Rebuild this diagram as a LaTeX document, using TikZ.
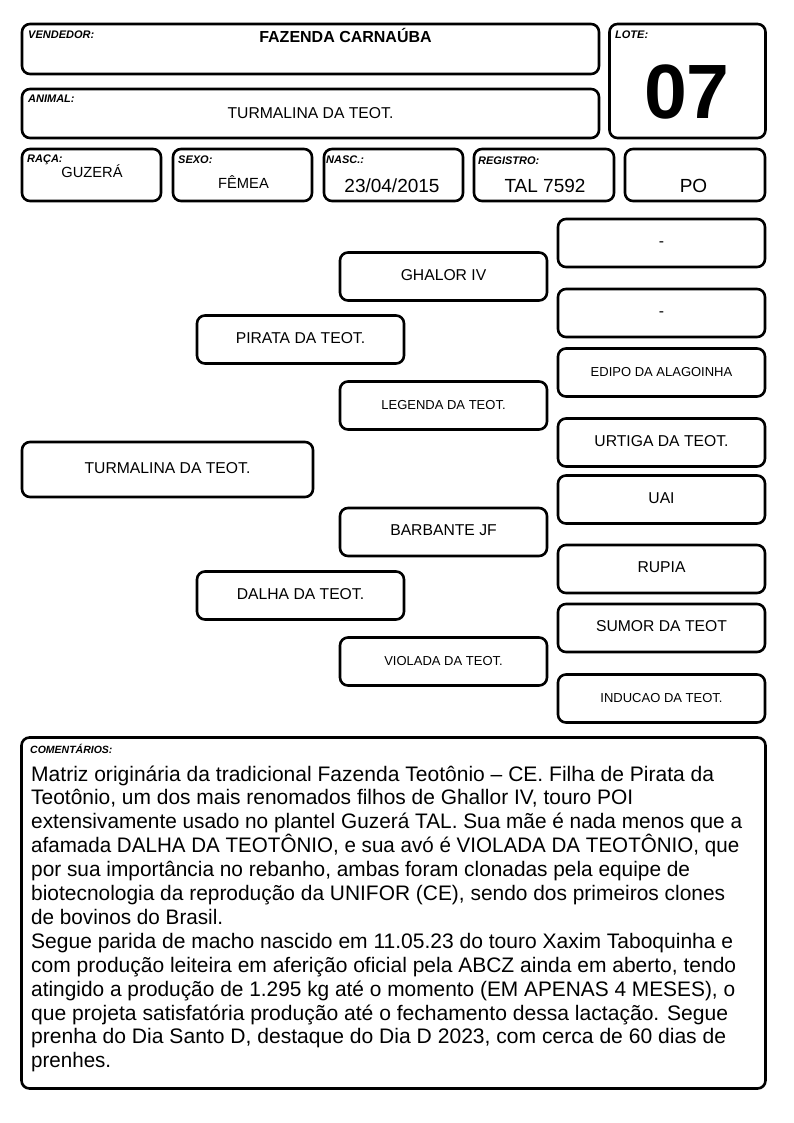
\documentclass[tikz,border=0pt]{standalone}
\usepackage{graphicx}
\usepackage{fontspec}
\setmainfont{Liberation Sans}
\begin{document}
\begin{tikzpicture}[x=1pt,y=-1pt,
  box/.style={draw=black, line width=2.6pt, rounded corners=8pt, outer sep=0pt, inner sep=0pt},
  lbl/.style={anchor=base west, inner sep=0pt, font=\fontsize{11}{13}\selectfont\bfseries\itshape},
  val/.style={anchor=base, inner sep=0pt},
  ped/.style={box, minimum width=207pt, minimum height=48pt, text depth=0pt, text height=0.716em, font=\fontsize{15.7}{18}\selectfont},
  peds/.style={ped, font=\fontsize{13}{15}\selectfont},
  cline/.style={anchor=base west, inner sep=0pt, font=\fontsize{21}{24}\selectfont}]
\useasboundingbox (0,0) rectangle (794,1123);
% header boxes
\node[box, minimum width=577pt, minimum height=50pt] (vend) at (310.5,49) {};
\node[box, minimum width=156pt, minimum height=114pt] (lote) at (687.5,81) {};
\node[box, minimum width=577pt, minimum height=49pt] (anim) at (310.5,113.5) {};
\node[box, minimum width=139pt, minimum height=52pt] (raca) at (91.5,175) {};
\node[box, minimum width=139pt, minimum height=52pt] (sexo) at (242.5,175) {};
\node[box, minimum width=139pt, minimum height=52pt] (nasc) at (393.5,175) {};
\node[box, minimum width=140pt, minimum height=52pt] (reg) at (544,175) {};
\node[box, minimum width=140pt, minimum height=52pt] (po) at (695,175) {};
% labels
\node[lbl] (lvend) at (28,39) {VENDEDOR:};
\node[lbl] (llote) at (615,39) {LOTE:};
\node[lbl] (lanim) at (28,103) {ANIMAL:};
\node[lbl] (lraca) at (27,163) {RAÇA:};
\node[lbl] (lsexo) at (178,164) {SEXO:};
\node[lbl] (lnasc) at (326,164) {NASC.:};
\node[lbl] (lreg) at (478,165) {REGISTRO:};
% values
\node[val, font=\fontsize{16}{18}\selectfont\bfseries] (tvend) at (345.5,43) {FAZENDA CARNAÚBA};
\node[val, font=\fontsize{77}{80}\selectfont\bfseries] (tlote) at (687,119) {07};
\node[val, font=\fontsize{15.7}{18}\selectfont] (tanim) at (310.5,119) {TURMALINA DA TEOT.};
\node[val, font=\fontsize{14.7}{17}\selectfont] (traca) at (92,178) {GUZERÁ};
\node[val, font=\fontsize{14.7}{17}\selectfont] (tsexo) at (243.5,189) {FÊMEA};
\node[val, font=\fontsize{19}{22}\selectfont] (tnasc) at (392,193) {23/04/2015};
\node[val, font=\fontsize{19}{22}\selectfont] (treg) at (545,193) {TAL 7592};
\node[val, font=\fontsize{19}{22}\selectfont] (tpo) at (693.5,193) {PO};
% pedigree
\node[ped, minimum width=291pt, minimum height=55pt] (p0) at (167.5,469.5) {TURMALINA DA TEOT.};
\node[ped] (p1) at (300.5,339.5) {PIRATA DA TEOT.};
\node[ped] (p2) at (300.5,595.5) {DALHA DA TEOT.};
\node[ped] (p11) at (443.5,276.5) {GHALOR IV};
\node[peds] (p12) at (443.5,405.5) {LEGENDA DA TEOT.};
\node[ped] (p21) at (443.5,532) {BARBANTE JF};
\node[peds] (p22) at (443.5,661.5) {VIOLADA DA TEOT.};
\node[ped] (p111) at (661.5,243) {-};
\node[ped] (p112) at (661.5,313) {-};
\node[peds] (p121) at (661.5,372.5) {EDIPO DA ALAGOINHA};
\node[ped] (p122) at (661.5,442.5) {URTIGA DA TEOT.};
\node[ped] (p211) at (661.5,499.5) {UAI};
\node[ped] (p212) at (661.5,569) {RUPIA};
\node[ped] (p221) at (661.5,628) {SUMOR DA TEOT};
\node[peds] (p222) at (661.5,698.5) {INDUCAO DA TEOT.};
% comments
\node[box, minimum width=744pt, minimum height=351pt] (com) at (393.5,913) {};
\node[lbl, font=\fontsize{10.5}{12}\selectfont\bfseries\itshape] (lcom) at (30,753) {COMENTÁRIOS:};
\foreach \t/\w [count=\i from 0] in {
  {Matriz originária da tradicional Fazenda Teotônio – CE. Filha de Pirata da}/683,
  {Teotônio, um dos mais renomados filhos de Ghallor IV, touro POI}/602,
  {extensivamente usado no plantel Guzerá TAL. Sua mãe é nada menos que a}/711,
  {afamada DALHA DA TEOTÔNIO, e sua avó é VIOLADA DA TEOTÔNIO, que}/708,
  {por sua importância no rebanho, ambas foram clonadas pela equipe de}/659,
  {biotecnologia da reprodução da UNIFOR (CE), sendo dos primeiros clones}/694,
  {de bovinos do Brasil.}/192,
  {Segue parida de macho nascido em 11.05.23 do touro Xaxim Taboquinha e}/702,
  {com produção leiteira em aferição oficial pela ABCZ ainda em aberto, tendo}/705,
  {atingido a produção de 1.295 kg até o momento (EM APENAS 4 MESES), o}/704,
  {que projeta satisfatória produção até o fechamento dessa lactação. Segue}/697,
  {prenha do Dia Santo D, destaque do Dia D 2023, com cerca de 60 dias de}/695,
  {prenhes.}/80}
  \node[cline] (c\i) at (31,781+23.9*\i) {\resizebox{\w pt}{\height}{\t}};
\end{tikzpicture}
\end{document}
